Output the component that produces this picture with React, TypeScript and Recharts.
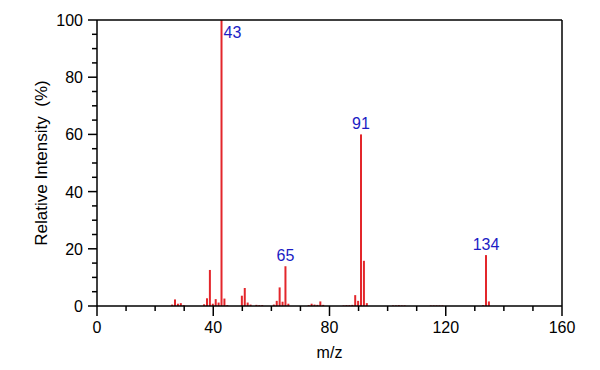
import React from 'react';
import { ComposedChart, Bar, XAxis, YAxis, ReferenceLine, LabelList, Label } from 'recharts';

const mzValues = [26, 27, 28, 29, 30, 37, 38, 39, 40, 41, 42, 43, 44, 45, 50, 51, 52, 53, 55, 56, 57, 61, 62, 63, 64, 65, 66, 73, 74, 75, 76, 77, 78, 85, 86, 87, 88, 89, 90, 91, 92, 93, 102, 103, 104, 105, 106, 115, 116, 117, 118, 119, 133, 134, 135];
const intensities = [0.5, 2.3, 0.8, 1.0, 0.3, 0.6, 2.7, 12.6, 0.8, 2.4, 1.2, 100, 2.6, 0.3, 3.6, 6.3, 1.2, 0.5, 0.4, 0.3, 0.3, 0.5, 1.8, 6.5, 1.5, 13.9, 0.8, 0.3, 0.8, 0.5, 0.4, 1.6, 0.4, 0.2, 0.3, 0.3, 0.4, 3.8, 1.8, 60, 15.8, 1.0, 0.2, 0.2, 0.3, 0.2, 0.2, 0.2, 0.2, 0.2, 0.2, 0.2, 0.3, 17.8, 1.6];
const labeledPeaks = [43, 65, 91, 134];
const xTicks = [0, 10, 20, 30, 40, 50, 60, 70, 80, 90, 100, 110, 120, 130, 140, 150, 160];
const yTicks = [0, 5, 10, 15, 20, 25, 30, 35, 40, 45, 50, 55, 60, 65, 70, 75, 80, 85, 90, 95, 100];

const data = mzValues.map((mz, i) => ({
  mz,
  intensity: intensities[i],
  label: labeledPeaks.includes(mz) ? String(mz) : '',
}));

const FONT = '"Liberation Sans", Arial, sans-serif';

const XTick = (props: any) => {
  const { x, y, payload } = props;
  const v = payload.value;
  const major = v % 40 === 0;
  return (
    <g>
      <line x1={x} x2={x} y1={y} y2={y + (major ? 10 : 5)} stroke="#000" strokeWidth={1.5} />
      {major && (
        <text x={x} y={y + 27} textAnchor="middle" fontSize={16} fill="#000" fontFamily={FONT}>
          {v}
        </text>
      )}
    </g>
  );
};

const YTick = (props: any) => {
  const { x, y, payload } = props;
  const v = payload.value;
  const major = v % 20 === 0;
  return (
    <g>
      <line x1={x} x2={x - (major ? 9 : 5)} y1={y} y2={y} stroke="#000" strokeWidth={1.5} />
      {major && (
        <text x={x - 14} y={y + 6} textAnchor="end" fontSize={16} fill="#000" fontFamily={FONT}>
          {v}
        </text>
      )}
    </g>
  );
};

const PeakLabel = (props: any) => {
  const { x, y, width, value } = props;
  if (!value) return null;
  const cx = x + width / 2;
  if (value === '43') {
    return (
      <text x={cx + 2} y={y + 18} textAnchor="start" fontSize={16} fill="#1c1cc4" fontFamily={FONT}>
        {value}
      </text>
    );
  }
  return (
    <text x={cx} y={y - 5} textAnchor="middle" fontSize={16} fill="#1c1cc4" fontFamily={FONT}>
      {value}
    </text>
  );
};

export default function App() {
  return (
    <div style={{ position: 'absolute', left: 0, top: 0, width: 600, height: 370, background: '#fff' }}>
      <ComposedChart
        width={600}
        height={370}
        data={data}
        margin={{ top: 20, right: 38, left: 0, bottom: 0 }}
        style={{ fontFamily: FONT }}
      >
        <XAxis
          dataKey="mz"
          type="number"
          domain={[0, 160]}
          ticks={xTicks}
          interval={0}
          height={64}
          tickSize={0}
          tickMargin={0}
          tickLine={false}
          tick={<XTick />}
          axisLine={{ stroke: '#000', strokeWidth: 1.5 }}
          allowDataOverflow
        >
          <Label
            content={(p: any) => {
              const vb = p.viewBox;
              return (
                <text x={vb.x + vb.width / 2} y={358} textAnchor="middle" fontSize={16} fill="#000" fontFamily={FONT}>
                  m/z
                </text>
              );
            }}
          />
        </XAxis>
        <YAxis
          type="number"
          domain={[0, 100]}
          ticks={yTicks}
          interval={0}
          width={97}
          tickSize={0}
          tickMargin={0}
          tickLine={false}
          tick={<YTick />}
          axisLine={{ stroke: '#000', strokeWidth: 1.5 }}
          allowDataOverflow
        >
          <Label
            content={(p: any) => {
              const vb = p.viewBox;
              const cy = vb.y + vb.height / 2;
              return (
                <text
                  x={47}
                  y={cy}
                  textAnchor="middle"
                  fontSize={17}
                  fill="#000"
                  fontFamily={FONT}
                  style={{ whiteSpace: 'pre' }}
                  transform={`rotate(-90 47 ${cy})`}
                >
                  {'Relative Intensity  (%)'}
                </text>
              );
            }}
          />
        </YAxis>
        <ReferenceLine y={100} stroke="#000" strokeWidth={1.5} />
        <ReferenceLine x={160} stroke="#000" strokeWidth={1.5} />
        <Bar dataKey="intensity" fill="#e3262b" barSize={2} isAnimationActive={false}>
          <LabelList dataKey="label" content={<PeakLabel />} />
        </Bar>
      </ComposedChart>
    </div>
  );
}
